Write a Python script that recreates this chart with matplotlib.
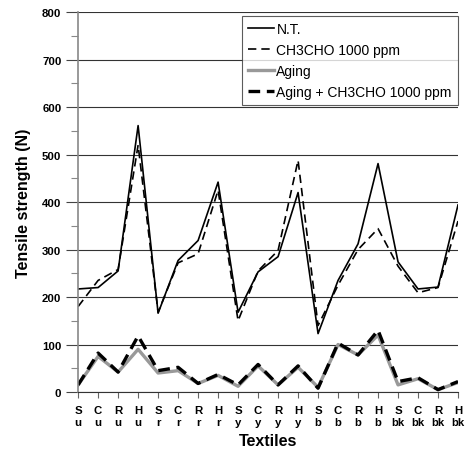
import matplotlib
matplotlib.use('agg')
import matplotlib.pyplot as plt
from matplotlib.ticker import MultipleLocator

plt.rcParams['font.family'] = ['Liberation Sans', 'DejaVu Sans']

# textile labels (treatment / colour)
textiles = ['S\nu', 'C\nu', 'R\nu', 'H\nu', 'S\nr', 'C\nr', 'R\nr', 'H\nr',
            'S\ny', 'C\ny', 'R\ny', 'H\ny', 'S\nb', 'C\nb', 'R\nb', 'H\nb',
            'S\nbk', 'C\nbk', 'R\nbk', 'H\nbk']

nt = [217, 220, 255, 561, 166, 277, 319, 442, 168, 253, 285, 420,
      123, 235, 312, 481, 274, 217, 221, 394]
ch3cho = [180, 235, 258, 520, 168, 272, 291, 425, 150, 255, 298, 488,
          140, 225, 300, 344, 265, 209, 220, 360]
aging = [15, 75, 42, 90, 40, 45, 18, 35, 12, 55, 15, 52,
         10, 100, 78, 120, 15, 28, 5, 20]
aging_ch3cho = [15, 82, 42, 118, 45, 52, 18, 37, 15, 58, 15, 55,
                8, 103, 78, 130, 22, 30, 5, 22]

fig = plt.figure(figsize=(4.65, 4.52), dpi=100)
ax = fig.add_axes([0.168, 0.1305, 0.817, 0.8405])

x = list(range(len(textiles)))

ax.plot(x, nt, color='black', lw=1.2, label='N.T.')
ax.plot(x, ch3cho, color='black', lw=1.2, ls=(0, (5, 3)), label='CH3CHO 1000 ppm')
ax.plot(x, aging, color='#999999', lw=2.4, label='Aging')
ax.plot(x, aging_ch3cho, color='black', lw=2.4, ls=(0, (3.5, 2)),
        label='Aging + CH3CHO 1000 ppm')

ax.set_xlim(0, len(textiles) - 1)
ax.set_ylim(0, 800)
ax.yaxis.set_major_locator(MultipleLocator(100))
ax.yaxis.set_minor_locator(MultipleLocator(50))
ax.set_xticks(x)
ax.set_xticklabels(textiles, fontsize=8.2, fontweight='bold', linespacing=1.35)
for t in ax.get_yticklabels():
    t.set_fontweight('bold')
ax.tick_params(axis='y', which='major', length=9, width=0.8, color='#444444',
               labelsize=8.2, pad=3)
ax.tick_params(axis='y', which='minor', length=5, width=0.8, color='#888888')
ax.tick_params(axis='x', length=4, width=0.8, color='#666666', pad=5)

ax.grid(axis='y', color='#333333', lw=0.8)
ax.set_axisbelow(True)
for s in ['top', 'right']:
    ax.spines[s].set_visible(False)
ax.spines['left'].set_color('#888888')
ax.spines['left'].set_linewidth(1.2)
ax.spines['bottom'].set_color('#333333')
ax.spines['bottom'].set_linewidth(0.8)

ax.set_ylabel('Tensile strength (N)', fontsize=11.5, fontweight='bold', labelpad=8)
ax.set_xlabel('Textiles', fontsize=11.5, fontweight='bold', labelpad=4)

leg = ax.legend(loc='upper right', fontsize=10, frameon=True, fancybox=False,
                borderpad=0.45, labelspacing=0.5, handlelength=1.9,
                handletextpad=0.15, borderaxespad=0.0,
                bbox_to_anchor=(1.0, 0.99))
leg.get_frame().set_edgecolor('#333333')
leg.get_frame().set_linewidth(0.8)

fig.savefig('out.png', dpi=100)
